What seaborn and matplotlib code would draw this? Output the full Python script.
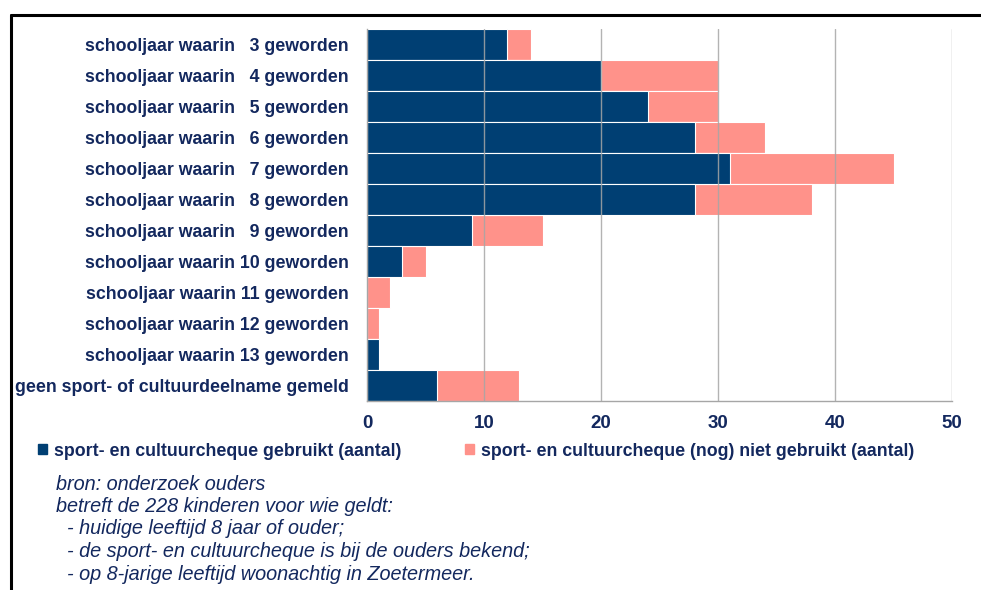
import numpy as np
import pandas as pd
import matplotlib
matplotlib.use("Agg")
import matplotlib.pyplot as plt
import seaborn as sns
from matplotlib.patches import Patch
from matplotlib.lines import Line2D

# ── Data ──────────────────────────────────────────────────────────────────────
categories = [
    "schooljaar waarin   3 geworden",
    "schooljaar waarin   4 geworden",
    "schooljaar waarin   5 geworden",
    "schooljaar waarin   6 geworden",
    "schooljaar waarin   7 geworden",
    "schooljaar waarin   8 geworden",
    "schooljaar waarin   9 geworden",
    "schooljaar waarin 10 geworden",
    "schooljaar waarin 11 geworden",
    "schooljaar waarin 12 geworden",
    "schooljaar waarin 13 geworden",
    "geen sport- of cultuurdeelname gemeld",
]
gebruikt = [12, 20, 24, 28, 31, 28, 9, 3, 0, 0, 1, 6]
niet_gebruikt = [2, 10, 6, 6, 14, 10, 6, 2, 2, 1, 0, 7]
series_names = [
    "sport- en cultuurcheque gebruikt (aantal)",
    "sport- en cultuurcheque (nog) niet gebruikt (aantal)",
]
x_ticks = [0, 10, 20, 30, 40, 50]

notes = [
    "bron: onderzoek ouders",
    "betreft de 228 kinderen voor wie geldt:",
    "  - huidige leeftijd 8 jaar of ouder;",
    "  - de sport- en cultuurcheque is bij de ouders bekend;",
    "  - op 8-jarige leeftijd woonachtig in Zoetermeer.",
]

# ── Style ─────────────────────────────────────────────────────────────────────
BLUE = "#003f73"
SALMON = "#ff928a"
NAVY = "#13285e"
GRID = "#a6a6a6"

sns.set_style("white")
plt.rcParams["font.family"] = ["Liberation Sans", "DejaVu Sans"]

df = pd.DataFrame({
    "categorie": categories,
    "gebruikt": gebruikt,
    "totaal": np.array(gebruikt) + np.array(niet_gebruikt),
})

fig = plt.figure(figsize=(9.81, 5.90), dpi=100)
ax = fig.add_axes([367 / 981, 1 - 401 / 590, (952 - 367) / 981, (401 - 29) / 590])

sns.barplot(data=df, y="categorie", x="totaal", color=SALMON, orient="h",
            width=1.0, edgecolor="white", linewidth=0.8, saturation=1, ax=ax)
sns.barplot(data=df, y="categorie", x="gebruikt", color=BLUE, orient="h",
            width=1.0, edgecolor="white", linewidth=0.8, saturation=1, ax=ax)

ax.set_xlim(0, 50)
ax.set_ylim(len(categories) - 0.5, -0.5)
ax.set_xticks(x_ticks)
ax.set_xlabel("")
ax.set_ylabel("")

for v in x_ticks[1:]:
    ax.axvline(v, color=GRID, lw=1.0, alpha=0.85, zorder=5)

for side in ["top", "right"]:
    ax.spines[side].set_visible(False)
for side in ["left", "bottom"]:
    ax.spines[side].set_color(GRID)
    ax.spines[side].set_linewidth(1.0)

ax.set_yticks(range(len(categories)))
ax.set_yticklabels(categories)
ax.set_yticks(np.arange(-0.5, len(categories), 1.0), minor=True)
ax.tick_params(axis="y", which="major", length=0, pad=13,
               labelsize=12.8, labelcolor=NAVY)
ax.tick_params(axis="y", which="minor", length=6, width=1.0, color=GRID)
ax.tick_params(axis="x", which="major", length=5, width=1.0, color=GRID,
               labelsize=13.5, labelcolor=NAVY, pad=5)
for lbl in ax.get_yticklabels() + ax.get_xticklabels():
    lbl.set_fontweight("bold")

# ── Legend ────────────────────────────────────────────────────────────────────
handles = [Patch(facecolor=BLUE, edgecolor=BLUE),
           Patch(facecolor=SALMON, edgecolor=SALMON)]
leg = fig.legend(handles, series_names, ncol=2, loc="center left",
                 bbox_to_anchor=(31 / 981, 1 - 451 / 590), frameon=False,
                 handlelength=0.5, handleheight=0.5, handletextpad=0.4,
                 columnspacing=3.6, borderaxespad=0,
                 prop={"size": 12.8, "weight": "bold"})
for t in leg.get_texts():
    t.set_color(NAVY)

# ── Notes ─────────────────────────────────────────────────────────────────────
for i, line in enumerate(notes):
    fig.text(56 / 981, 1 - (484 + i * 22.5) / 590, line, fontsize=14.3,
             style="italic", color=NAVY, va="center", ha="left")

# ── Frame (top and left edges) ────────────────────────────────────────────────
fig.add_artist(Line2D([11 / 981, 1.0], [1 - 15 / 590, 1 - 15 / 590],
                      transform=fig.transFigure, color="black", lw=2.2))
fig.add_artist(Line2D([11 / 981, 11 / 981], [0.0, 1 - 15 / 590],
                      transform=fig.transFigure, color="black", lw=2.2))

fig.savefig("out.png", dpi=100)
